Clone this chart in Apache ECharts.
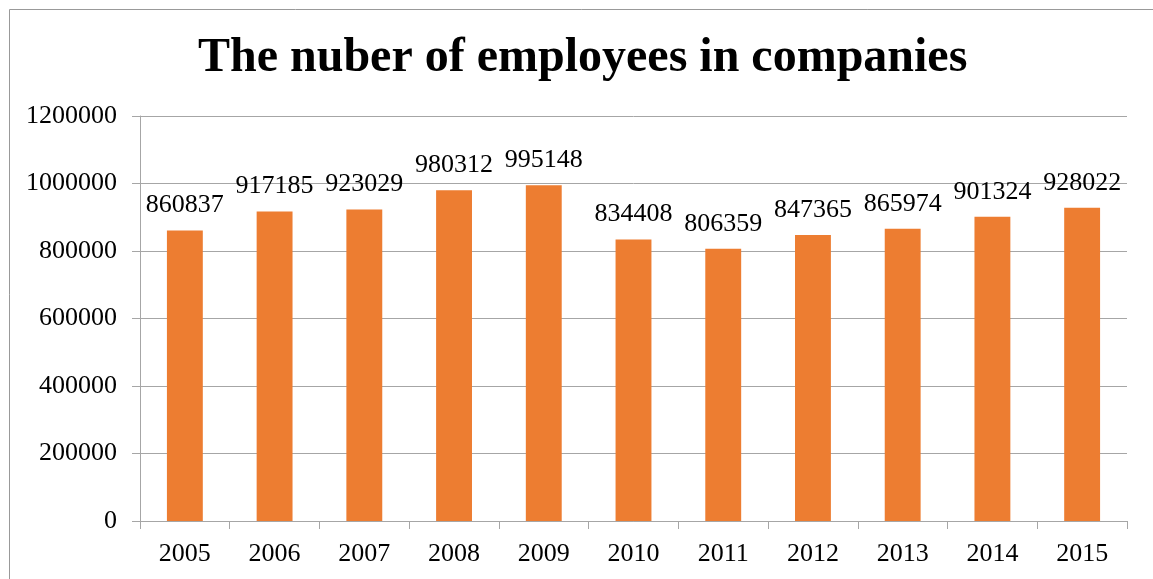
<!DOCTYPE html>
<html>
<head>
<meta charset="utf-8">
<script src="https://cdn.jsdelivr.net/npm/echarts@6/dist/echarts.min.js"></script>
<style>
  html, body { margin: 0; padding: 0; background: #fff; }
  #chart { width: 1153px; height: 579px; }
</style>
</head>
<body>
<div id="chart"></div>
<script>
// Employees per year
const years = ['2005', '2006', '2007', '2008', '2009', '2010', '2011', '2012', '2013', '2014', '2015'];
const employees = [860837, 917185, 923029, 980312, 995148, 834408, 806359, 847365, 865974, 901324, 928022];
const yTicks = { min: 0, max: 1200000, interval: 200000 };

const serif = '"Liberation Serif", "Times New Roman", serif';
const gridGrey = '#A6A6A6';

const chart = echarts.init(document.getElementById('chart'), null, { renderer: 'canvas' });
chart.setOption({
  animation: false,
  backgroundColor: '#fff',
  title: {
    text: 'The nuber of employees in companies',
    left: 193,
    top: 30,
    textStyle: { fontFamily: serif, fontSize: 48, fontWeight: 'bold', color: '#000' }
  },
  graphic: [{
    type: 'rect',
    left: 7, top: 7,
    shape: { width: 1170, height: 600 },
    style: { fill: 'none', stroke: '#999', lineWidth: 1 },
    silent: true
  }],
  grid: { left: 140, right: 26, top: 116, bottom: 58 },
  xAxis: {
    type: 'category',
    data: years,
    boundaryGap: true,
    axisLine: { lineStyle: { color: gridGrey, width: 1 } },
    axisTick: { show: true, length: 8, lineStyle: { color: gridGrey } },
    axisLabel: { fontFamily: serif, fontSize: 26, color: '#000', margin: 20 }
  },
  yAxis: {
    type: 'value',
    min: yTicks.min, max: yTicks.max, interval: yTicks.interval,
    axisLine: { show: true, lineStyle: { color: gridGrey, width: 1 } },
    axisTick: { show: true, length: 8, lineStyle: { color: gridGrey } },
    splitLine: { show: true, lineStyle: { color: gridGrey, width: 1 } },
    axisLabel: {
      fontFamily: serif, fontSize: 26, color: '#000', margin: 23,
      formatter: (v) => String(v)
    }
  },
  series: [{
    type: 'bar',
    data: employees,
    barWidth: '40%',
    itemStyle: { color: '#ED7D31' },
    label: {
      show: true,
      position: 'top',
      distance: 12,
      fontFamily: serif,
      fontSize: 26,
      color: '#000'
    }
  }]
});
</script>
</body>
</html>
